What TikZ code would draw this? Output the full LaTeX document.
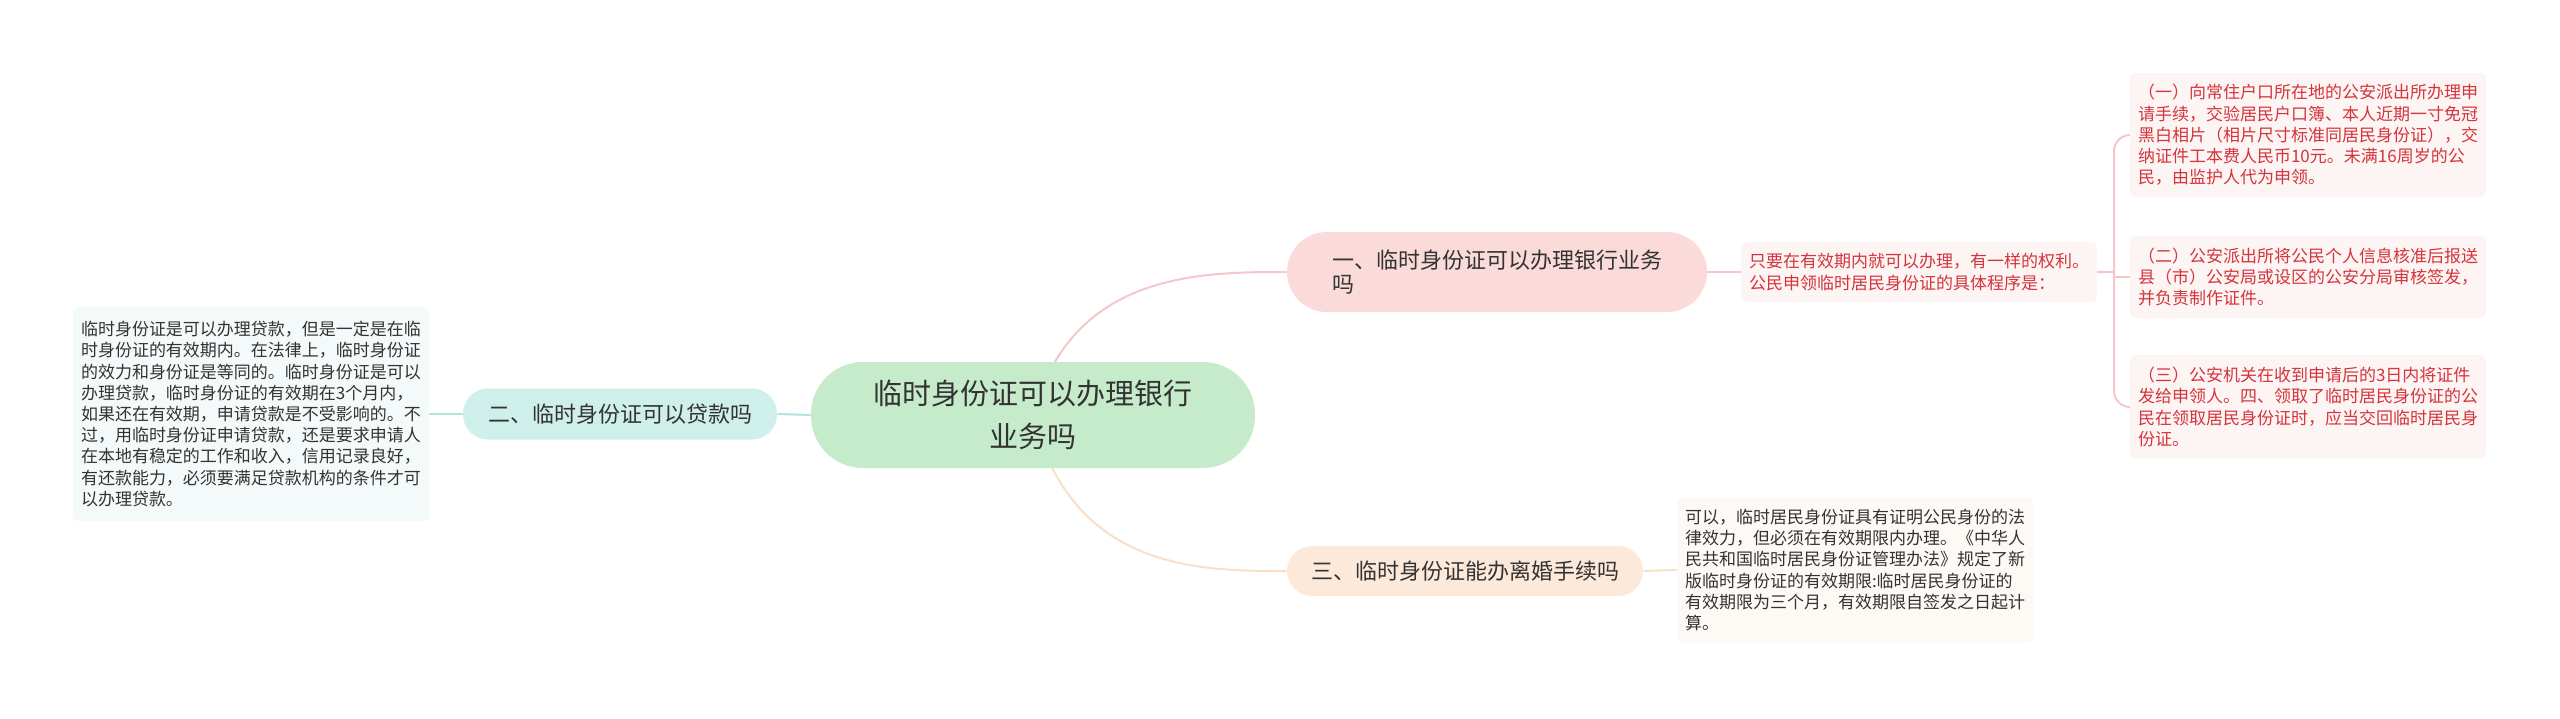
\documentclass[tikz,border=0pt]{standalone}
\usepackage{fontspec}
\setmainfont{Noto Sans CJK SC}
\usetikzlibrary{backgrounds}
\definecolor{rootgreen}{HTML}{C6EBCB}
\definecolor{topicpink}{HTML}{FBDADA}
\definecolor{topicteal}{HTML}{CFEFEA}
\definecolor{topicpeach}{HTML}{FDE9DA}
\definecolor{leafpink}{HTML}{FDF4F4}
\definecolor{leafteal}{HTML}{F4FAFA}
\definecolor{leafpeach}{HTML}{FDFAF5}
\definecolor{linepink}{HTML}{F4C8CA}
\definecolor{lineteal}{HTML}{B3E3DE}
\definecolor{linepeach}{HTML}{FADFC8}
\definecolor{txtgray}{HTML}{333333}
\definecolor{txtred}{HTML}{D4343C}

\begin{document}
\begin{tikzpicture}[x=0.5pt,y=-0.5pt,
  root/.style={fill=rootgreen,rounded corners=26pt,minimum width=222pt,minimum height=53pt,
    align=center,text=txtgray,font=\fontsize{14.5}{21.5}\selectfont},
  topic/.style={rounded corners=12.5pt,align=left,text=txtgray,font=\fontsize{11}{12}\selectfont},
  leaf/.style={rounded corners=3pt,align=left,inner xsep=4pt,minimum width=178pt,
    font=\fontsize{8.5}{10.6}\selectfont},
  link/.style={line width=1pt}]
\useasboundingbox (0,0) rectangle (2560,718);

% center
\node[root] (root) at (1033,415) {临时身份证可以办理银行\\业务吗};

% main topics
\node[topic,fill=topicpink,rounded corners=20pt,minimum width=210pt,minimum height=40pt] (one) at (1497,272)
  {一、临时身份证可以办理银行业务\\吗};
\node[topic,fill=topicteal,minimum width=157pt,minimum height=25.5pt] (two) at (620,414)
  {二、临时身份证可以贷款吗};
\node[topic,fill=topicpeach,minimum width=178pt,minimum height=25pt] (three) at (1465,571)
  {三、临时身份证能办离婚手续吗};

% details
\node[leaf,fill=leafpink,text=txtred,minimum height=30pt] (oneA) at (1919,272)
  {只要在有效期内就可以办理，有一样的权利。\\公民申领临时居民身份证的具体程序是：};
\node[leaf,fill=leafpink,text=txtred,minimum height=62pt] (stepA) at (2308,135)
  {（一）向常住户口所在地的公安派出所办理申\\请手续，交验居民户口簿、本人近期一寸免冠\\黑白相片（相片尺寸标准同居民身份证），交\\纳证件工本费人民币10元。未满16周岁的公\\民，由监护人代为申领。};
\node[leaf,fill=leafpink,text=txtred,minimum height=41pt] (stepB) at (2308,277)
  {（二）公安派出所将公民个人信息核准后报送\\县（市）公安局或设区的公安分局审核签发，\\并负责制作证件。};
\node[leaf,fill=leafpink,text=txtred,minimum height=52pt] (stepC) at (2308,407)
  {（三）公安机关在收到申请后的3日内将证件\\发给申领人。四、领取了临时居民身份证的公\\民在领取居民身份证时，应当交回临时居民身\\份证。};
\node[leaf,fill=leafteal,text=txtgray,minimum height=107pt] (twoA) at (251,414)
  {临时身份证是可以办理贷款，但是一定是在临\\时身份证的有效期内。在法律上，临时身份证\\的效力和身份证是等同的。临时身份证是可以\\办理贷款，临时身份证的有效期在3个月内，\\如果还在有效期，申请贷款是不受影响的。不\\过，用临时身份证申请贷款，还是要求申请人\\在本地有稳定的工作和收入，信用记录良好，\\有还款能力，必须要满足贷款机构的条件才可\\以办理贷款。};
\node[leaf,fill=leafpeach,text=txtgray,minimum height=73pt] (threeA) at (1855,570)
  {可以，临时居民身份证具有证明公民身份的法\\律效力，但必须在有效期限内办理。《中华人\\民共和国临时居民身份证管理办法》规定了新\\版临时身份证的有效期限:临时居民身份证的\\有效期限为三个月，有效期限自签发之日起计\\算。};

% connectors
\begin{scope}[on background layer]
\draw[link,linepink] (root.center) .. controls (1072,272) and (1200,272) .. (one.west);
\draw[link,linepeach] (root.center) .. controls (1072,571) and (1200,571) .. (three.west);
\draw[link,lineteal] (root.west) -- (two.east);
\draw[link,lineteal] (two.west) -- (twoA.east);
\draw[link,linepeach] (three.east) -- (threeA.west);
\draw[link,linepink] (one.east) -- (oneA.west);
\coordinate (fork) at (2114,272);
\draw[link,linepink] (oneA.east) -- (fork);
\draw[link,linepink,rounded corners=8pt] (stepA.west) -| (fork) |- (stepC.west);
\draw[link,linepink] (fork |- stepB.west) -- (stepB.west);
\end{scope}
\end{tikzpicture}
\end{document}
